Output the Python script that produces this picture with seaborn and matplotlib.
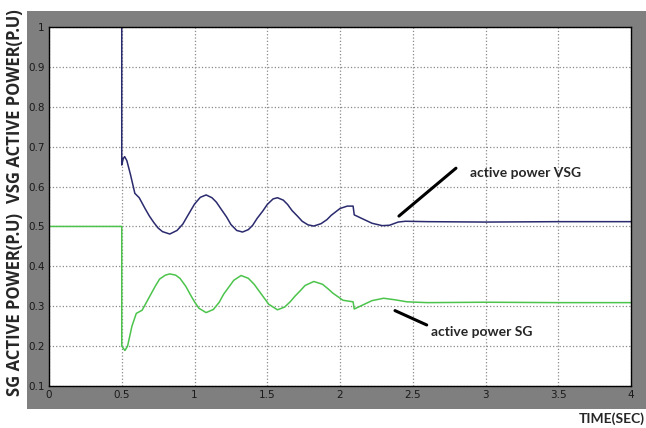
import matplotlib
matplotlib.use("Agg")
import matplotlib.pyplot as plt
import seaborn as sns
import pandas as pd


# VSG / SG active power response

vsg_t = [0.0, 0.5, 0.5, 0.51, 0.52, 0.535, 0.56, 0.59, 0.62, 0.66, 0.69, 0.72, 0.75, 0.78,
         0.83, 0.88, 0.92, 0.95, 1.0, 1.04, 1.08, 1.12, 1.15, 1.18, 1.22, 1.25, 1.29, 1.33, 1.37,
         1.40, 1.43, 1.47, 1.5, 1.54, 1.57, 1.61, 1.64, 1.67, 1.71, 1.74, 1.78, 1.82, 1.87, 1.91,
         1.94, 2.0, 2.05, 2.09, 2.098, 2.15, 2.22, 2.29, 2.34, 2.4, 2.45, 2.6, 3.0, 3.5, 4.0]
vsg_p = [1.0, 1.0, 0.654, 0.67, 0.675, 0.665, 0.63, 0.583, 0.572, 0.545, 0.526, 0.51, 0.496, 0.487,
         0.481, 0.49, 0.506, 0.525, 0.556, 0.573, 0.579, 0.572, 0.561, 0.545, 0.524, 0.505, 0.49,
         0.486, 0.492, 0.503, 0.52, 0.539, 0.555, 0.569, 0.572, 0.566, 0.555, 0.54, 0.525, 0.513,
         0.504, 0.501, 0.507, 0.517, 0.528, 0.545, 0.551, 0.551, 0.529, 0.52, 0.508, 0.502, 0.503,
         0.511, 0.513, 0.512, 0.511, 0.512, 0.512]

sg_t = [0.0, 0.5, 0.5, 0.522, 0.54, 0.57, 0.6, 0.64, 0.67, 0.7, 0.73, 0.76, 0.8, 0.83, 0.87,
        0.9, 0.94, 0.97, 1.0, 1.03, 1.08, 1.13, 1.17, 1.2, 1.24, 1.27, 1.32, 1.37, 1.41, 1.44,
        1.48, 1.51, 1.57, 1.62, 1.66, 1.69, 1.73, 1.76, 1.82, 1.88, 1.92, 1.95, 2.02, 2.09,
        2.098, 2.15, 2.22, 2.3, 2.38, 2.46, 2.6, 3.0, 3.5, 4.0]
sg_p = [0.5, 0.5, 0.2, 0.189, 0.2, 0.25, 0.282, 0.29, 0.31, 0.33, 0.35, 0.368, 0.378, 0.381,
        0.378, 0.37, 0.35, 0.33, 0.311, 0.295, 0.284, 0.292, 0.31, 0.33, 0.35, 0.365, 0.377,
        0.37, 0.355, 0.34, 0.32, 0.305, 0.291, 0.298, 0.312, 0.325, 0.34, 0.352, 0.362, 0.355,
        0.343, 0.333, 0.315, 0.311, 0.293, 0.302, 0.314, 0.32, 0.316, 0.311, 0.309, 0.31,
        0.309, 0.309]

x_ticks = [0, 0.5, 1, 1.5, 2, 2.5, 3, 3.5, 4]
y_ticks = [0.1, 0.2, 0.3, 0.4, 0.5, 0.6, 0.7, 0.8, 0.9, 1.0]
y_labels = ['0.1', '0.2', '0.3', '0.4', '0.5', '0.6', '0.7', '0.8', '0.9', '1']

sns.set_style('white')

fig = plt.figure(figsize=(6.46, 4.28), dpi=100)

# gray scope frame behind the plot
bg = fig.add_axes([27 / 646, 1 - 409 / 428, 1 - 27 / 646, (409 - 11) / 428])
bg.set_facecolor('#7f7f7f')
bg.set_xticks([])
bg.set_yticks([])
for s in bg.spines.values():
    s.set_visible(False)

ax = fig.add_axes([49 / 646, 1 - 386 / 428, (631 - 49) / 646, (386 - 27) / 428])
ax.set_facecolor('white')

vsg = pd.DataFrame({'t': vsg_t, 'p': vsg_p})
sg = pd.DataFrame({'t': sg_t, 'p': sg_p})
sns.lineplot(data=vsg, x='t', y='p', estimator=None, sort=False, color='#2a2a6e', lw=1.1, ax=ax)
sns.lineplot(data=sg, x='t', y='p', estimator=None, sort=False, color='#4cc44c', lw=1.1, ax=ax)

ax.set_xlim(0, 4)
ax.set_ylim(0.1, 1.0)
ax.set_xticks(x_ticks)
ax.set_xticklabels([('%g' % v) for v in x_ticks])
ax.set_yticks(y_ticks)
ax.set_yticklabels(y_labels)
ax.grid(True, linestyle=':', color='#8a8a8a', lw=0.9)
ax.tick_params(direction='in', length=4, width=1, color='#555555', labelsize=7.5,
               labelcolor='#1a1a1a', pad=3)
for s in ax.spines.values():
    s.set_color('black')
    s.set_linewidth(1)
ax.set_xlabel('')
ax.set_ylabel('')

# annotations
ax.plot([2.405, 2.797], [0.526, 0.646], color='black', lw=2.2)
ax.text(2.893, 0.633, 'active power VSG', fontsize=10, fontweight='bold',
        family='Lato', va='center', ha='left')
ax.plot([2.378, 2.596], [0.289, 0.253], color='black', lw=2.2)
ax.text(2.623, 0.235, 'active power SG', fontsize=10, fontweight='bold',
        family='Lato', va='center', ha='left')

fig.text(15 / 646, 1 - 305 / 428, 'SG ACTIVE POWER(P.U)', rotation=90, fontsize=12,
         fontweight='bold', family='Open Sans', ha='center', va='center')
fig.text(15 / 646, 1 - 106 / 428, 'VSG ACTIVE POWER(P.U)', rotation=90, fontsize=12,
         fontweight='bold', family='Open Sans', ha='center', va='center')
fig.text(612 / 646, 1 - 419 / 428, 'TIME(SEC)', fontsize=10, fontweight='bold',
         family='Lato', ha='center', va='center')

fig.savefig('out.png', dpi=100)
